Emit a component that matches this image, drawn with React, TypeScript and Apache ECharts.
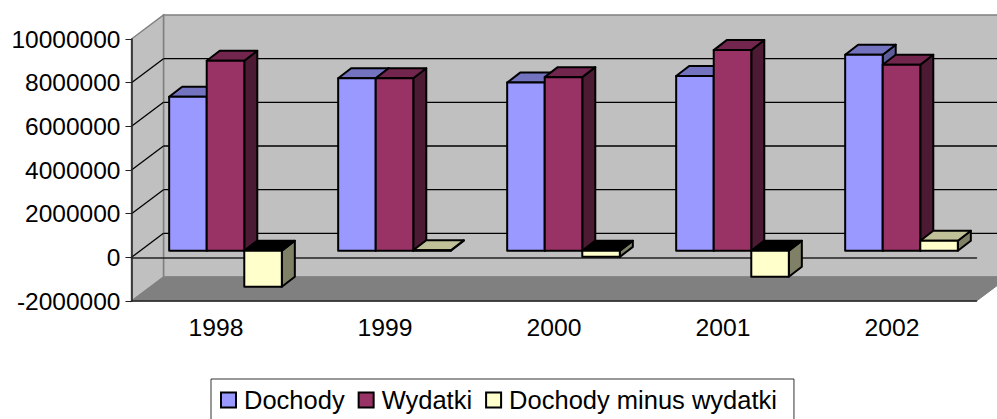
import React, { useEffect, useRef } from "react";
import * as echarts from "echarts";

const categories = ["1998", "1999", "2000", "2001", "2002"];
const dochody = [7050000, 7900000, 7700000, 8000000, 8980000];
const wydatki = [8700000, 7900000, 7950000, 9190000, 8520000];
const roznica = [-1650000, 20000, -280000, -1190000, 460000];
const yTicks = [-2000000, 0, 2000000, 4000000, 6000000, 8000000, 10000000];
const seriesNames = ["Dochody", "Wydatki", "Dochody minus wydatki"];

const FONT = '"Liberation Sans", Arial, sans-serif';
const FS = 24.5;
const WALL_DX = 32;
const WALL_DY = -24;
const FRONT_DX = 9.5;
const FRONT_DY = -6.6;
const DEPTH_DX = 13;
const DEPTH_DY = -10;

const palette = [
  { front: "#9999FF", top: "#7373C0", side: "#5C5C99", under: "#000000" },
  { front: "#993366", top: "#73264D", side: "#4D1A33", under: "#000000" },
  { front: "#FFFFCC", top: "#C0C099", side: "#808066", under: "#000000" },
];

function barRenderer(idx: number) {
  return (_params: any, api: any) => {
    const cat = api.value(0);
    const v = api.value(1);
    const zero = api.coord([cat, 0]);
    const val = api.coord([cat, v]);
    const band = api.size([1, 0])[0];
    const w = band / 4.5;
    const x0 = zero[0] + FRONT_DX + (idx - 1.5) * w;
    const x1 = x0 + w;
    const top = Math.min(zero[1], val[1]) + FRONT_DY;
    const bottom = Math.max(zero[1], val[1]) + FRONT_DY;
    const c = palette[idx];
    const line = { stroke: "#000", lineWidth: 2, lineJoin: "round" };
    return {
      type: "group",
      children: [
        {
          type: "polygon",
          shape: { points: [[x1, top], [x1 + DEPTH_DX, top + DEPTH_DY], [x1 + DEPTH_DX, bottom + DEPTH_DY], [x1, bottom]] },
          style: { fill: c.side, ...line },
        },
        {
          type: "polygon",
          shape: { points: [[x0, top], [x0 + DEPTH_DX, top + DEPTH_DY], [x1 + DEPTH_DX, top + DEPTH_DY], [x1, top]] },
          style: { fill: v < 0 ? c.under : c.top, ...line },
        },
        {
          type: "rect",
          shape: { x: x0, y: top, width: w, height: bottom - top },
          style: { fill: c.front, ...line },
        },
      ],
    };
  };
}

function wallsRenderer(params: any, api: any) {
  if (params.dataIndex !== 0) return null;
  const a = api.coord([0, 10000000]);
  const b = api.coord([0, -2000000]);
  const band = api.size([1, 0])[0];
  const xl = a[0] - band / 2;
  const xr = xl + band * 5;
  const yt = a[1];
  const yb = b[1];
  const edge = { stroke: "#808080", lineWidth: 1.5 };
  return {
    type: "group",
    children: [
      {
        type: "polygon",
        shape: { points: [[xl + WALL_DX, yt + WALL_DY], [xr + WALL_DX, yt + WALL_DY], [xr + WALL_DX, yb + WALL_DY], [xl + WALL_DX, yb + WALL_DY]] },
        style: { fill: "#C0C0C0", ...edge },
      },
      {
        type: "polygon",
        shape: { points: [[xl, yt], [xl + WALL_DX, yt + WALL_DY], [xl + WALL_DX, yb + WALL_DY], [xl, yb]] },
        style: { fill: "#C0C0C0", ...edge },
      },
      {
        type: "polygon",
        shape: { points: [[xl, yb], [xl + WALL_DX, yb + WALL_DY], [xr + WALL_DX, yb + WALL_DY], [xr, yb]] },
        style: { fill: "#808080", stroke: "#808080", lineWidth: 1 },
      },
    ],
  };
}

function gridRenderer(_params: any, api: any) {
  const v = api.value(1);
  if (v === -2000000 || v === 10000000) return null;
  const p = api.coord([0, v]);
  const band = api.size([1, 0])[0];
  const xl = p[0] - band / 2;
  const xr = xl + band * 5;
  const s = { stroke: "#000", lineWidth: 1.3 };
  return {
    type: "group",
    children: [
      { type: "line", shape: { x1: xl, y1: p[1], x2: xl + WALL_DX, y2: p[1] + WALL_DY }, style: s },
      { type: "line", shape: { x1: xl + WALL_DX, y1: p[1] + WALL_DY, x2: xr + WALL_DX, y2: p[1] + WALL_DY }, style: s },
    ],
  };
}

export default function App() {
  const ref = useRef<HTMLDivElement>(null);
  useEffect(() => {
    const chart = echarts.init(ref.current!, null, { renderer: "svg" });
    const axisLine = { lineStyle: { color: "#222", width: 1.5 } };
    const axisTick = { length: 6, lineStyle: { color: "#222", width: 1 } };
    chart.setOption({
      animation: false,
      backgroundColor: "#fff",
      textStyle: { fontFamily: FONT },
      grid: { left: 131.5, top: 39, width: 845, height: 262, containLabel: false, outerBoundsMode: "none" },
      legend: {
        left: 211,
        top: 379,
        padding: [8, 17, 9, 9],
        borderColor: "#333",
        borderWidth: 1,
        itemWidth: 15,
        itemHeight: 15,
        itemGap: 13,
        icon: "rect",
        textStyle: { fontFamily: FONT, fontSize: 25.5, color: "#000", padding: [0, 0, 6, 3] },
        data: seriesNames.map((name, i) => ({
          name,
          itemStyle: { color: palette[i].front, borderColor: "#000", borderWidth: 2 },
        })),
      },
      xAxis: [
        {
          type: "category",
          data: categories,
          z: 2,
          axisLine: { ...axisLine, onZero: false },
          axisTick,
          axisLabel: { fontFamily: FONT, fontSize: 24.7, color: "#000", margin: 14 },
        },
        {
          type: "category",
          data: categories,
          z: 2,
          axisLine: { ...axisLine, onZero: true },
          axisTick,
          axisLabel: { show: false },
        },
      ],
      yAxis: {
        type: "value",
        min: -2000000,
        max: 10000000,
        interval: 2000000,
        z: 2,
        splitLine: { show: false },
        axisLine: { show: true, ...axisLine },
        axisTick: { show: true, length: 6, lineStyle: { color: "#222", width: 1 } },
        axisLabel: { fontFamily: FONT, fontSize: FS, color: "#000", margin: 11, formatter: (v: number) => String(v) },
      },
      series: [
        {
          type: "custom",
          name: "walls",
          z: 1,
          silent: true,
          renderItem: wallsRenderer,
          data: [[0, 0]],
        },
        {
          type: "custom",
          name: "grid",
          z: 1,
          silent: true,
          renderItem: gridRenderer,
          data: yTicks.map((t) => [0, t]),
        },
        ...[dochody, wydatki, roznica].map((vals, i) => ({
          type: "custom",
          name: seriesNames[i],
          z: 3,
          itemStyle: { color: palette[i].front },
          renderItem: barRenderer(i),
          encode: { x: 0, y: 1 },
          data: vals.map((v, k) => [k, v]),
        })),
      ],
    });
    return () => chart.dispose();
  }, []);
  return <div ref={ref} style={{ position: "absolute", left: 0, top: 0, width: 997, height: 419, overflow: "hidden" }} />;
}
